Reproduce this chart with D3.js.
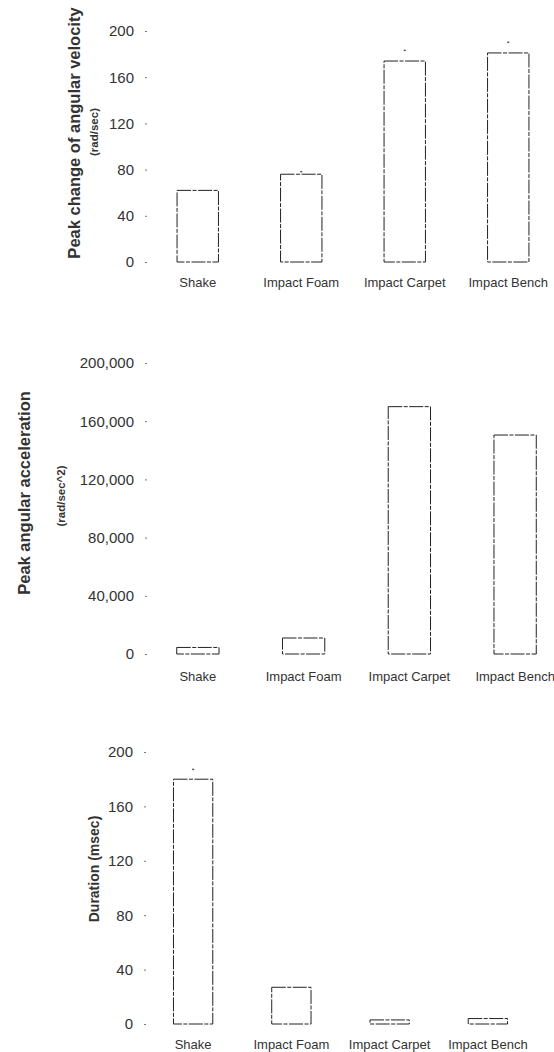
<!DOCTYPE html>
<html>
<head>
<meta charset="utf-8">
<script src="https://cdn.jsdelivr.net/npm/d3@7"></script>
<style>
  body { margin: 0; background: #fff; }
  text { font-family: "Liberation Sans", Arial, sans-serif; fill: #333; }
</style>
</head>
<body>
<script>
// Categories shared by all three panels
const categories = ["Shake", "Impact Foam", "Impact Carpet", "Impact Bench"];

// Panel values
const velocityValues = [62, 76, 174, 181];
const velocityErrTop = [null, 78, 183, 190];
const velocityTicks = [0, 40, 80, 120, 160, 200];

const accelValues = [4500, 11000, 170000, 150500];
const accelErrTop = [null, null, null, null];
const accelTicks = [0, 40000, 80000, 120000, 160000, 200000];

const durationValues = [180, 27, 3, 4];
const durationErrTop = [187, null, null, null];
const durationTicks = [0, 40, 80, 120, 160, 200];

const width = 554, height = 1052;

const svg = d3.select("body").append("svg")
  .attr("width", width)
  .attr("height", height);

/**
 * Draw one hollow-bar panel
 */
function drawPanel(opts) {
  const g = svg.append("g");

  const y = d3.scaleLinear().domain([0, 200 * opts.unit]).range(opts.yRange);
  const x = d3.scaleBand().domain(categories).range(opts.xRange)
    .paddingInner(0.6).paddingOuter(0.3);

  // y axis: only the small dots for ticks and the labels
  const yAxis = d3.axisLeft(y).tickValues(opts.ticks)
    .tickSize(2).tickPadding(11)
    .tickFormat(opts.format);
  const ya = g.append("g")
    .attr("transform", `translate(${opts.axisX},0)`)
    .call(yAxis);
  ya.select(".domain").remove();
  ya.selectAll(".tick line").attr("stroke", "#777");
  ya.selectAll("text").style("font-size", "15px").attr("fill", "#444");

  // x labels
  g.selectAll(".xl").data(categories).join("text")
    .attr("class", "xl")
    .attr("x", d => x(d) + x.bandwidth() / 2)
    .attr("y", opts.labelY)
    .attr("text-anchor", "middle")
    .style("font-size", "13px")
    .attr("fill", "#444")
    .text(d => d);

  // hollow bars, broken outline like the scan
  g.selectAll(".bar").data(opts.values).join("rect")
    .attr("class", "bar")
    .attr("x", (d, i) => x(categories[i]))
    .attr("y", d => y(d))
    .attr("width", x.bandwidth())
    .attr("height", d => y(0) - y(d))
    .attr("fill", "none")
    .attr("stroke", "#222")
    .attr("stroke-width", 1)
    .attr("stroke-dasharray", "14,1.5,4,1.5");

  // faint error tops
  g.selectAll(".err").data(opts.err).join("rect")
    .attr("class", "err")
    .filter(d => d != null)
    .attr("x", (d, i) => x(categories[opts.err.indexOf(d)]) + x.bandwidth() / 2 - 1)
    .attr("y", d => y(d * opts.unit) - 1)
    .attr("width", 2)
    .attr("height", 1.5)
    .attr("fill", "#555");

  // axis titles
  g.append("text")
    .attr("transform", `translate(${opts.titleX},${opts.titleY}) rotate(-90)`)
    .attr("text-anchor", "middle")
    .style("font-size", opts.titleSize)
    .style("font-weight", "bold")
    .attr("fill", "#222")
    .text(opts.title);

  if (opts.sub) {
    g.append("text")
      .attr("transform", `translate(${opts.subX},${opts.subY}) rotate(-90)`)
      .attr("text-anchor", "middle")
      .style("font-size", "11.5px")
      .style("font-weight", "bold")
      .attr("fill", "#333")
      .text(opts.sub);
  }
}

drawPanel({
  values: velocityValues, err: velocityErrTop, ticks: velocityTicks, unit: 1,
  yRange: [262, 31], xRange: [146, 560], axisX: 147, labelY: 287,
  format: d3.format("d"),
  title: "Peak change of angular velocity", titleX: 80, titleY: 133, titleSize: "16.5px",
  sub: "(rad/sec)", subX: 98, subY: 132
});

drawPanel({
  values: accelValues, err: accelErrTop, ticks: accelTicks, unit: 1000,
  yRange: [654, 363], xRange: [145, 568], axisX: 147, labelY: 681,
  format: d3.format(","),
  title: "Peak angular acceleration", titleX: 30, titleY: 493, titleSize: "16.5px",
  sub: "(rad/sec^2)", subX: 65, subY: 496
});

drawPanel({
  values: durationValues, err: durationErrTop, ticks: durationTicks, unit: 1,
  yRange: [1024, 752], xRange: [144, 537], axisX: 146, labelY: 1049,
  format: d3.format("d"),
  title: "Duration (msec)", titleX: 99, titleY: 869, titleSize: "14px",
  sub: null
});
</script>
</body>
</html>
